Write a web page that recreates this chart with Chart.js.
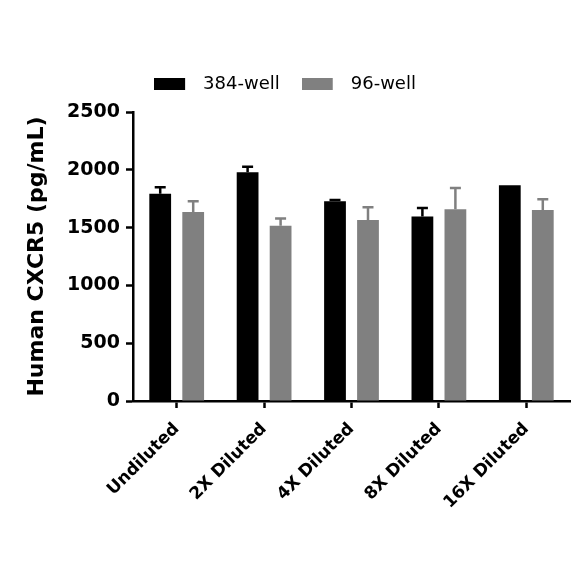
<!DOCTYPE html>
<html>
<head>
<meta charset="utf-8">
<script src="https://cdn.jsdelivr.net/npm/chart.js@4.4.1/dist/chart.umd.min.js"></script>
<style>
  html, body { margin: 0; padding: 0; background: #fff; }
  #wrap { width: 584px; height: 584px; }
</style>
</head>
<body>
<div id="wrap"><canvas id="chart" width="584" height="584"></canvas></div>
<script>
// --- data ---
const categories = ['Undiluted', '2X Diluted', '4X Diluted', '8X Diluted', '16X Diluted'];
const well384 = [1793, 1979, 1727, 1595, 1867];
const well384Err = [55, 47, 11, 75, 0];
const well96 = [1635, 1515, 1566, 1658, 1652];
const well96Err = [92, 63, 110, 184, 93];
const yTicks = [0, 500, 1000, 1500, 2000, 2500];

const FONT = "'DejaVu Sans', sans-serif";
const BLACK = '#000000';
const GREY = '#808080';

// legend swatch: 31x12 box inside a 40px wide slot, so the text sits further right
function swatch(color) {
  const c = document.createElement('canvas');
  c.width = 40;
  c.height = 12;
  const g = c.getContext('2d');
  g.fillStyle = color;
  g.fillRect(0, 0, 31, 12);
  return c;
}

// upper-only error bars, drawn through the y scale
const errorBars = {
  id: 'errorBars',
  afterDatasetsDraw(chart) {
    const ctx = chart.ctx;
    const y = chart.scales.y;
    chart.data.datasets.forEach((ds, i) => {
      const meta = chart.getDatasetMeta(i);
      meta.data.forEach((bar, j) => {
        const err = ds.errors[j];
        if (!err) return;
        const top = y.getPixelForValue(ds.data[j] + err);
        ctx.save();
        ctx.strokeStyle = ds.backgroundColor;
        ctx.lineWidth = 2.5;
        ctx.beginPath();
        ctx.moveTo(bar.x, bar.y);
        ctx.lineTo(bar.x, top);
        ctx.moveTo(bar.x - 5.5, top);
        ctx.lineTo(bar.x + 5.5, top);
        ctx.stroke();
        ctx.restore();
      });
    });
  }
};

// a bit of extra room under the legend
const legendGap = {
  id: 'legendGap',
  beforeLayout(chart) {
    const lg = chart.legend;
    if (!lg || lg._gapWrapped) return;
    const fit = lg.fit.bind(lg);
    lg.fit = function () { fit(); this.height += 9; };
    lg._gapWrapped = true;
  }
};

new Chart(document.getElementById('chart'), {
  type: 'bar',
  data: {
    labels: categories,
    datasets: [
      { label: '384-well', data: well384, errors: well384Err, backgroundColor: BLACK, pointStyle: swatch(BLACK) },
      { label: '96-well', data: well96, errors: well96Err, backgroundColor: GREY, pointStyle: swatch(GREY) },
    ],
  },
  options: {
    responsive: false,
    animation: false,
    devicePixelRatio: 1,
    categoryPercentage: 0.755,
    barPercentage: 0.66,
    layout: { padding: { top: 53, left: 0, right: 14, bottom: 0 } },
    plugins: {
      tooltip: { enabled: false },
      legend: {
        position: 'top',
        labels: {
          color: BLACK,
          usePointStyle: true,
          pointStyleWidth: 40,
          boxHeight: 12,
          padding: 22,
          font: { family: FONT, size: 18 },
        },
      },
    },
    scales: {
      x: {
        afterFit: s => { s.height = 183; },
        border: { color: BLACK, width: 2.5 },
        grid: { display: true, drawOnChartArea: false, offset: false, tickLength: 7, tickColor: BLACK, tickWidth: 2.5 },
        ticks: { color: BLACK, minRotation: 45, maxRotation: 45, padding: 11, font: { family: FONT, size: 17, weight: 'bold' } },
      },
      y: {
        min: 0,
        max: 2500,
        afterFit: s => { s.width = 133; },
        afterBuildTicks: s => { s.ticks = yTicks.map(v => ({ value: v })); },
        border: { color: BLACK, width: 2.5 },
        grid: { display: true, drawOnChartArea: false, tickLength: 7, tickColor: BLACK, tickWidth: 2.5 },
        ticks: { color: BLACK, padding: 6, callback: v => String(v), font: { family: FONT, size: 19, weight: 'bold' } },
        title: {
          display: true,
          text: 'Human CXCR5 (pg/mL)',
          color: BLACK,
          padding: { top: 24, bottom: 0 },
          font: { family: FONT, size: 22, weight: 'bold' },
        },
      },
    },
  },
  plugins: [errorBars, legendGap],
});
</script>
</body>
</html>
